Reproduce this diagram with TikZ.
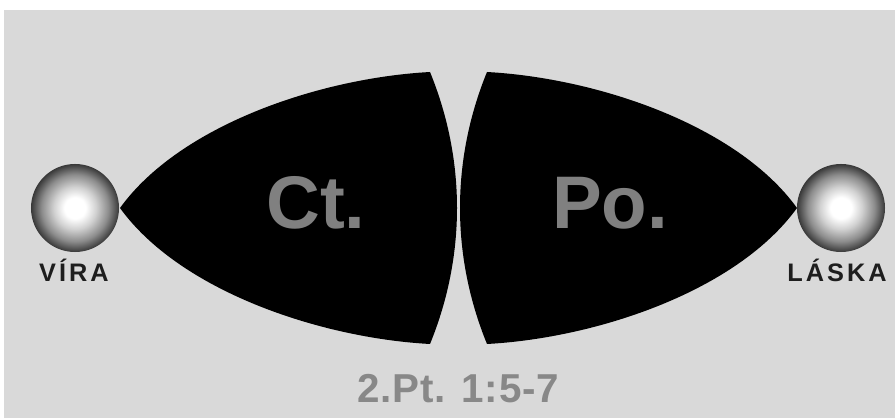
\documentclass[tikz,border=0pt]{standalone}
\usepackage{fontspec}
\setmainfont{Liberation Sans}
\definecolor{bggray}{RGB}{217,217,217}
\definecolor{wordgray}{RGB}{128,128,128}
\definecolor{versegray}{RGB}{136,136,136}
\definecolor{tagink}{RGB}{30,30,30}
\pgfdeclareradialshading{pearl}{\pgfpoint{0bp}{0bp}}{color(0bp)=(white); color(6bp)=(white); color(12bp)=(black!18); color(19bp)=(black!45); color(25bp)=(black!78); color(50bp)=(black!78)}

\begin{document}
\begin{tikzpicture}[x=0.025cm,y=-0.025cm,
 lens/.style={fill=black},
 pearlball/.style={circle,shading=pearl,minimum size=2.2cm,inner sep=0pt},
 word/.style={font=\bfseries\fontsize{53}{53}\selectfont,text=wordgray,anchor=base},
 tag/.style={font=\bfseries\fontsize{18}{18}\selectfont\addfontfeature{LetterSpace=12},text=tagink,anchor=base},
 verse/.style={font=\bfseries\fontsize{28.7}{29}\selectfont\addfontfeature{LetterSpace=2},text=versegray,anchor=base}]
\useasboundingbox (0,0) rectangle (895,418);
\fill[bggray] (4,10) rectangle (895,418);
% the two black lenses
\fill[lens] (120,208) .. controls (180,125) and (320,78) .. (430,72)
  .. controls (466,160) and (466,256) .. (430,344)
  .. controls (320,338) and (180,291) .. cycle;
\fill[lens] (797,208) .. controls (737,125) and (597,78) .. (487,72)
  .. controls (451,160) and (451,256) .. (487,344)
  .. controls (597,338) and (737,291) .. cycle;
\node[word] (ct) at (316,229) {Ct.};
\node[word] (po) at (610,229) {Po.};
% spheres with their labels
\node[pearlball] (vira) at (75,208) {};
\node[pearlball] (laska) at (841,208) {};
\node[tag] (viratag) at (74,282) {VÍRA};
\node[tag] (laskatag) at (837,282) {LÁSKA};
\node[verse] (ref) at (458,403) {2.Pt. 1:5-7};
\end{tikzpicture}
\end{document}
